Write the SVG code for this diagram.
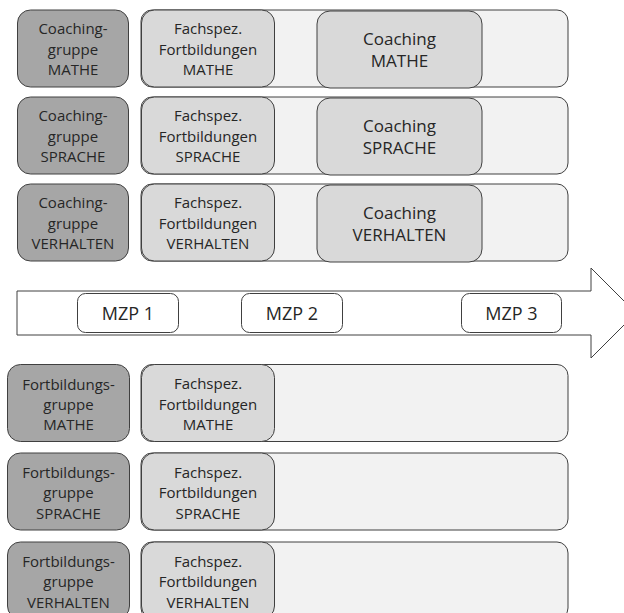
<svg xmlns="http://www.w3.org/2000/svg" width="624" height="613" viewBox="0 0 624 613">
  <style>
    .lane { fill: #f2f2f2; stroke: #404040; stroke-width: 1; }
    .group { fill: #a6a6a6; stroke: #404040; stroke-width: 1; }
    .course { fill: #d9d9d9; stroke: #404040; stroke-width: 1; }
    .coach { fill: #d9d9d9; stroke: #404040; stroke-width: 1; }
    .mzp { fill: #ffffff; stroke: #404040; stroke-width: 1; }
    .arrow { fill: #ffffff; stroke: #404040; stroke-width: 1; }
    text { font-family: "Open Sans", "Liberation Sans", sans-serif; fill: #262626; text-anchor: middle; }
    .t15 { font-size: 15px; }
    .t17 { font-size: 17px; }
    .t18 { font-size: 18px; }
  </style>

  <!-- Coaching rows -->
  <g id="row-coaching-mathe">
    <rect class="lane" x="141" y="10" width="427" height="77" rx="11"/>
    <g id="cg-mathe">
      <rect class="group" x="17.5" y="10" width="111" height="77" rx="13"/>
      <text class="t15" x="73" y="34">Coaching-</text>
      <text class="t15" x="73" y="54.5">gruppe</text>
      <text class="t15" x="73" y="75">MATHE</text>
    </g>
    <g id="fb-mathe-1">
      <rect class="course" x="141.5" y="10" width="133" height="77" rx="13"/>
      <text class="t15" x="208" y="34">Fachspez.</text>
      <text class="t15" x="208" y="54.5">Fortbildungen</text>
      <text class="t15" x="208" y="75">MATHE</text>
    </g>
    <g id="coaching-mathe">
      <rect class="coach" x="317" y="11" width="165" height="77" rx="13"/>
      <text class="t17" x="399.5" y="44.5">Coaching</text>
      <text class="t17" x="399.5" y="66.5">MATHE</text>
    </g>
  </g>

  <g id="row-coaching-sprache">
    <rect class="lane" x="141" y="97" width="427" height="77" rx="11"/>
    <g id="cg-sprache">
      <rect class="group" x="17.5" y="97" width="111" height="77" rx="13"/>
      <text class="t15" x="73" y="121">Coaching-</text>
      <text class="t15" x="73" y="141.5">gruppe</text>
      <text class="t15" x="73" y="162">SPRACHE</text>
    </g>
    <g id="fb-sprache-1">
      <rect class="course" x="141.5" y="97" width="133" height="77" rx="13"/>
      <text class="t15" x="208" y="121">Fachspez.</text>
      <text class="t15" x="208" y="141.5">Fortbildungen</text>
      <text class="t15" x="208" y="162">SPRACHE</text>
    </g>
    <g id="coaching-sprache">
      <rect class="coach" x="317" y="98" width="165" height="77" rx="13"/>
      <text class="t17" x="399.5" y="131.5">Coaching</text>
      <text class="t17" x="399.5" y="153.5">SPRACHE</text>
    </g>
  </g>

  <g id="row-coaching-verhalten">
    <rect class="lane" x="141" y="184" width="427" height="77" rx="11"/>
    <g id="cg-verhalten">
      <rect class="group" x="17.5" y="184" width="111" height="77" rx="13"/>
      <text class="t15" x="73" y="208">Coaching-</text>
      <text class="t15" x="73" y="228.5">gruppe</text>
      <text class="t15" x="73" y="249">VERHALTEN</text>
    </g>
    <g id="fb-verhalten-1">
      <rect class="course" x="141.5" y="184" width="133" height="77" rx="13"/>
      <text class="t15" x="208" y="208">Fachspez.</text>
      <text class="t15" x="208" y="228.5">Fortbildungen</text>
      <text class="t15" x="208" y="249">VERHALTEN</text>
    </g>
    <g id="coaching-verhalten">
      <rect class="coach" x="317" y="185" width="165" height="77" rx="13"/>
      <text class="t17" x="399.5" y="218.5">Coaching</text>
      <text class="t17" x="399.5" y="240.5">VERHALTEN</text>
    </g>
  </g>

  <!-- Timeline with measurement points -->
  <g id="timeline">
    <polygon class="arrow" points="17,291 591,291 591,268 636,313 591,358 591,335 17,335"/>
    <g id="mzp1">
      <rect class="mzp" x="77.5" y="293.5" width="101" height="39" rx="8"/>
      <text class="t18" x="128" y="320">MZP 1</text>
    </g>
    <g id="mzp2">
      <rect class="mzp" x="241.5" y="293.5" width="101" height="39" rx="8"/>
      <text class="t18" x="292" y="320">MZP 2</text>
    </g>
    <g id="mzp3">
      <rect class="mzp" x="461.5" y="293.5" width="100" height="39" rx="8"/>
      <text class="t18" x="511.5" y="320">MZP 3</text>
    </g>
  </g>

  <!-- Training-only rows -->
  <g id="row-fortbildung-mathe">
    <rect class="lane" x="141" y="364.5" width="427" height="77" rx="11"/>
    <g id="fg-mathe">
      <rect class="group" x="7.5" y="364.5" width="122" height="77" rx="13"/>
      <text class="t15" x="68.5" y="389.5">Fortbildungs-</text>
      <text class="t15" x="68.5" y="409.5">gruppe</text>
      <text class="t15" x="68.5" y="430">MATHE</text>
    </g>
    <g id="fb-mathe-2">
      <rect class="course" x="141.5" y="364.5" width="133" height="77" rx="13"/>
      <text class="t15" x="208" y="389">Fachspez.</text>
      <text class="t15" x="208" y="409.5">Fortbildungen</text>
      <text class="t15" x="208" y="430">MATHE</text>
    </g>
  </g>

  <g id="row-fortbildung-sprache">
    <rect class="lane" x="141" y="453" width="427" height="77" rx="11"/>
    <g id="fg-sprache">
      <rect class="group" x="7.5" y="453" width="122" height="77" rx="13"/>
      <text class="t15" x="68.5" y="478">Fortbildungs-</text>
      <text class="t15" x="68.5" y="498">gruppe</text>
      <text class="t15" x="68.5" y="518.5">SPRACHE</text>
    </g>
    <g id="fb-sprache-2">
      <rect class="course" x="141.5" y="453" width="133" height="77" rx="13"/>
      <text class="t15" x="208" y="477.5">Fachspez.</text>
      <text class="t15" x="208" y="498">Fortbildungen</text>
      <text class="t15" x="208" y="518.5">SPRACHE</text>
    </g>
  </g>

  <g id="row-fortbildung-verhalten">
    <rect class="lane" x="141" y="542" width="427" height="77" rx="11"/>
    <g id="fg-verhalten">
      <rect class="group" x="7.5" y="542" width="122" height="77" rx="13"/>
      <text class="t15" x="68.5" y="567">Fortbildungs-</text>
      <text class="t15" x="68.5" y="587">gruppe</text>
      <text class="t15" x="68.5" y="607.5">VERHALTEN</text>
    </g>
    <g id="fb-verhalten-2">
      <rect class="course" x="141.5" y="542" width="133" height="77" rx="13"/>
      <text class="t15" x="208" y="566.5">Fachspez.</text>
      <text class="t15" x="208" y="587">Fortbildungen</text>
      <text class="t15" x="208" y="607.5">VERHALTEN</text>
    </g>
  </g>
</svg>
